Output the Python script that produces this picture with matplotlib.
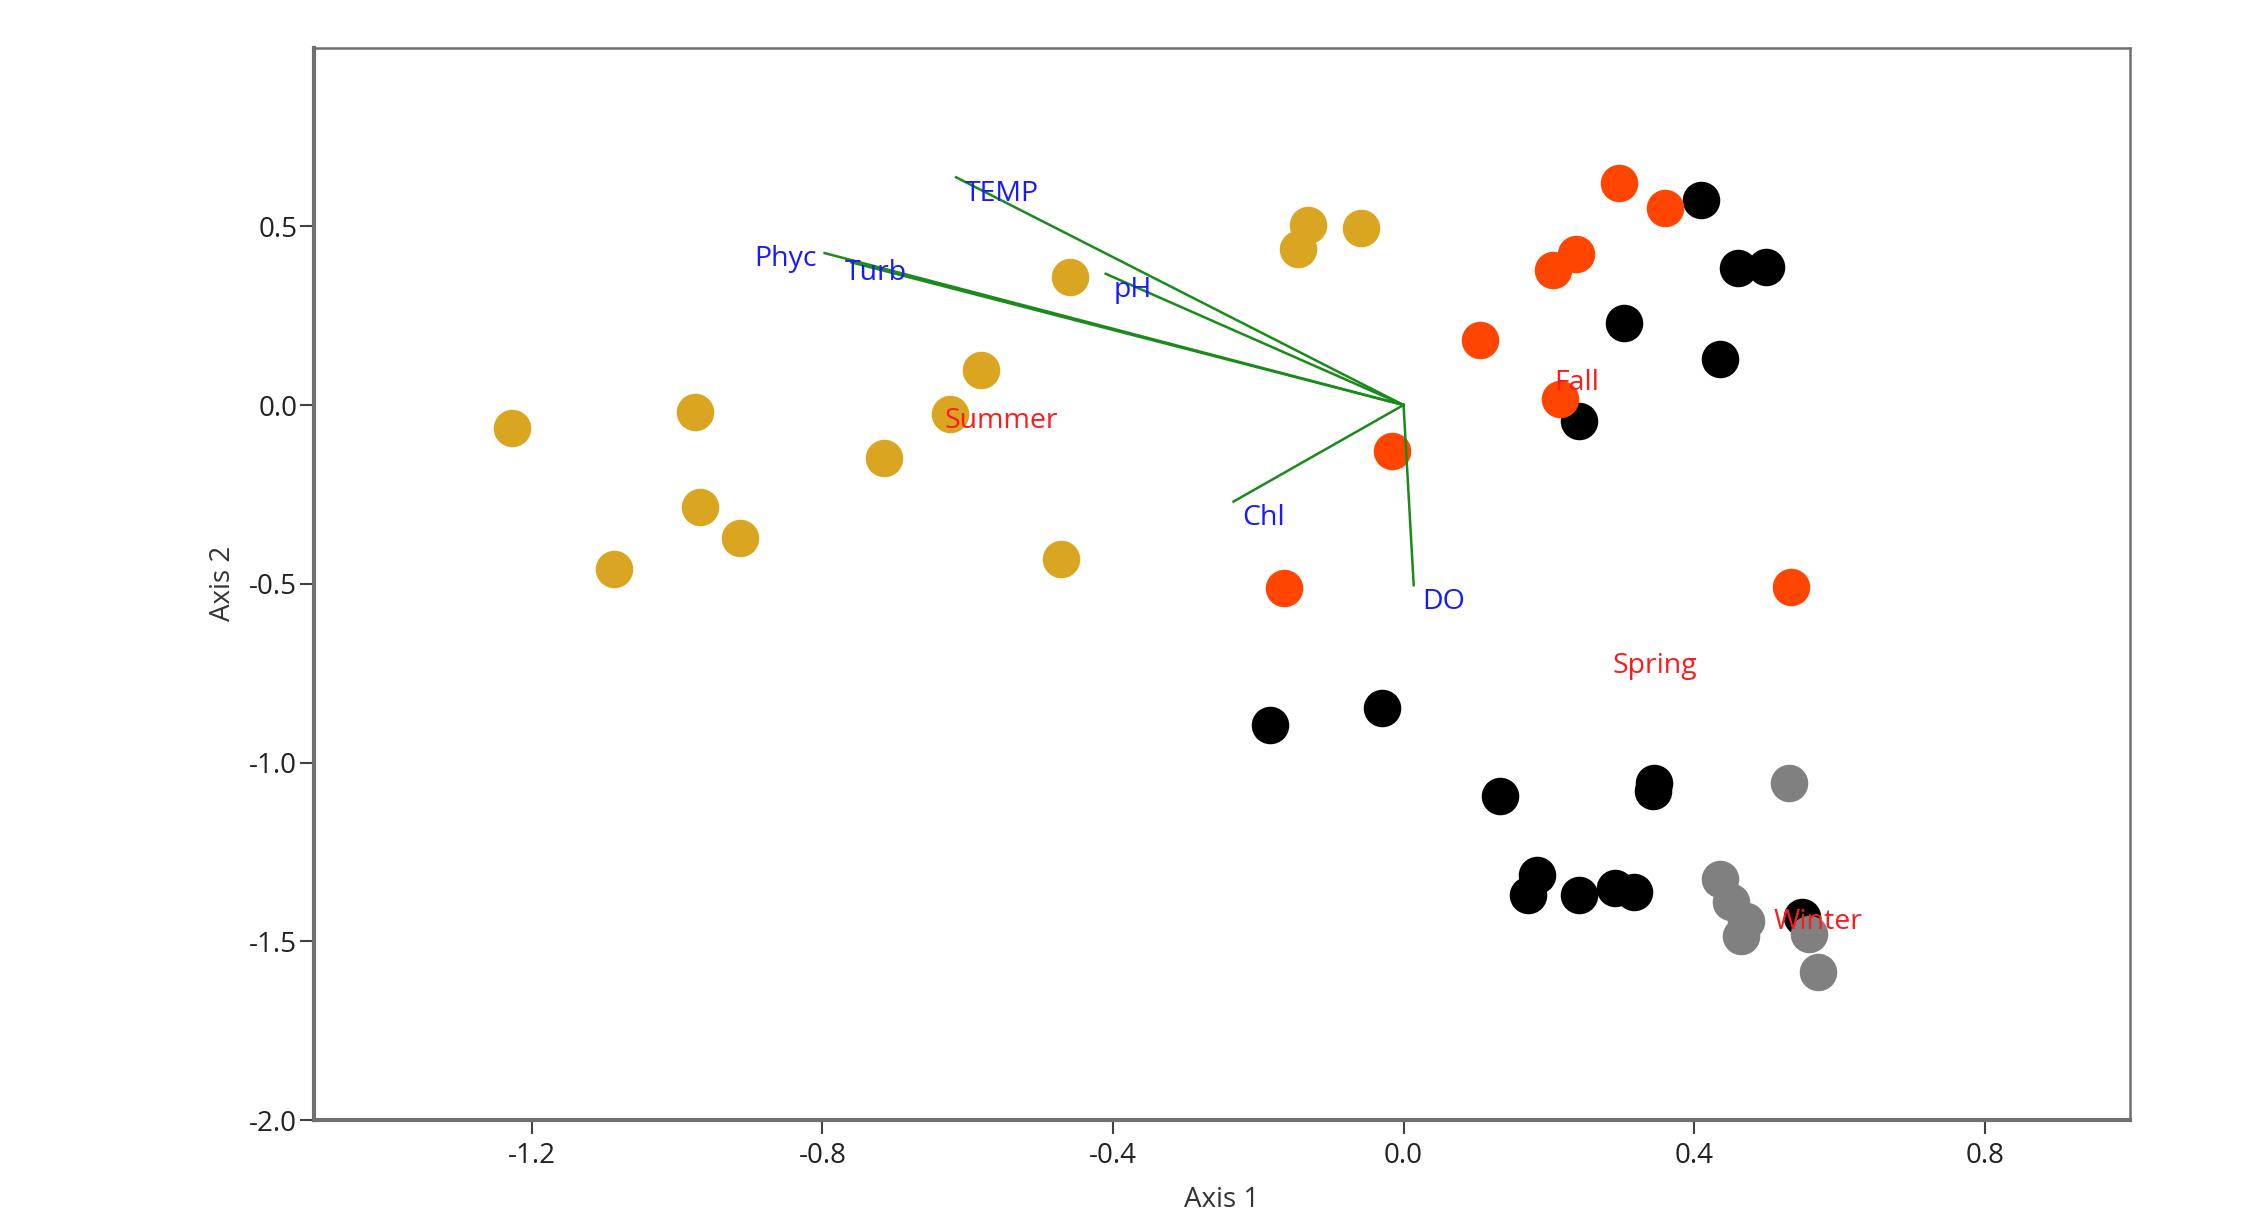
import matplotlib
matplotlib.use('Agg')
import matplotlib.pyplot as plt

plt.rcParams['font.family'] = ['Open Sans', 'DejaVu Sans']

# site scores per season (Axis 1, Axis 2)
spring_x = [0.410, 0.461, 0.499, 0.303, 0.436, 0.242, -0.184, -0.030, 0.133, 0.345,
            0.343, 0.184, 0.172, 0.242, 0.291, 0.317, 0.549]
spring_y = [0.573, 0.383, 0.387, 0.230, 0.129, -0.044, -0.895, -0.847, -1.093, -1.056,
            -1.081, -1.315, -1.371, -1.371, -1.351, -1.363, -1.431]
winter_x = [0.531, 0.436, 0.451, 0.471, 0.465, 0.558, 0.570]
winter_y = [-1.056, -1.327, -1.391, -1.444, -1.484, -1.480, -1.585]
fall_x = [0.297, 0.360, 0.238, 0.206, 0.105, 0.216, -0.016, -0.164, 0.533]
fall_y = [0.621, 0.552, 0.423, 0.379, 0.181, 0.016, -0.129, -0.512, -0.508]
summer_x = [-1.228, -1.087, -0.976, -0.968, -0.913, -0.715, -0.624, -0.582, -0.459,
            -0.471, -0.145, -0.131, -0.059]
summer_y = [-0.065, -0.460, -0.020, -0.286, -0.371, -0.149, -0.024, 0.097, 0.359,
            -0.431, 0.435, 0.504, 0.496]

# season centroid labels
season_names = ['Summer', 'Fall', 'Spring', 'Winter']
season_label_x = [-0.632, 0.208, 0.287, 0.509]
season_label_y = [-0.032, 0.073, -0.718, -1.435]

# environmental vectors
vector_names = ['TEMP', 'Phyc', 'Turb', 'pH', 'Chl', 'DO']
vector_x = [-0.616, -0.797, -0.760, -0.410, -0.234, 0.014]
vector_y = [0.637, 0.425, 0.399, 0.367, -0.270, -0.504]

x_ticks = [-1.2, -0.8, -0.4, 0.0, 0.4, 0.8]
y_ticks = [0.5, 0.0, -0.5, -1.0, -1.5, -2.0]

fig = plt.figure(figsize=(22.57, 12.12), dpi=100)
ax = fig.add_axes([0.1391, 0.0759, 0.8046, 0.8849])

dot = 730
ax.scatter(spring_x, spring_y, s=dot, color='black', linewidths=0, zorder=2)
ax.scatter(winter_x, winter_y, s=dot, color='#808080', linewidths=0, zorder=2)
ax.scatter(fall_x, fall_y, s=dot, color='#FF4500', linewidths=0, zorder=2)
ax.scatter(summer_x, summer_y, s=dot, color='#DAA520', linewidths=0, zorder=2)

label_offsets = {'Phyc': (-6, -4, 'right'), 'Turb': (-5, -8, 'left')}
for name, vx, vy in zip(vector_names, vector_x, vector_y):
    ax.plot([0, vx], [0, vy], color='#1a8a1a', lw=1.8, zorder=3)
    dx, dy, ha = label_offsets.get(name, (6, -12, 'left'))
    ax.annotate(name, (vx, vy), xytext=(dx, dy), textcoords='offset points',
                ha=ha, va='center', color='#1a1aff', fontsize=20.5, zorder=4)

for name, lx, ly in zip(season_names, season_label_x, season_label_y):
    ax.annotate(name, (lx, ly), xytext=(0, -3), textcoords='offset points',
                ha='left', va='center', color='#ff1a1a', fontsize=20.5, zorder=4)

ax.set_xlim(-1.5, 1.0)
ax.set_ylim(-2.0, 1.0)
ax.set_xticks(x_ticks)
ax.set_xticklabels(['-1.2', '-0.8', '-0.4', '0.0', '0.4', '0.8'])
ax.set_yticks(y_ticks)
ax.set_yticklabels(['0.5', '0.0', '-0.5', '-1.0', '-1.5', '-2.0'])
ax.tick_params(direction='out', length=10, width=1.5, color='#404040',
               labelsize=20, labelcolor='#222222')
ax.tick_params(axis='x', pad=6)
ax.tick_params(axis='y', pad=2)
ax.set_xlabel('Axis 1', fontsize=20, color='#333333', labelpad=11)
ax.set_ylabel('Axis 2', fontsize=20, color='#333333', labelpad=9)

for side in ['left', 'bottom']:
    ax.spines[side].set_linewidth(3)
    ax.spines[side].set_color('#707070')
for side in ['top', 'right']:
    ax.spines[side].set_linewidth(1.8)
    ax.spines[side].set_color('#707070')

fig.savefig('out.png', dpi=100)
plt.close(fig)
